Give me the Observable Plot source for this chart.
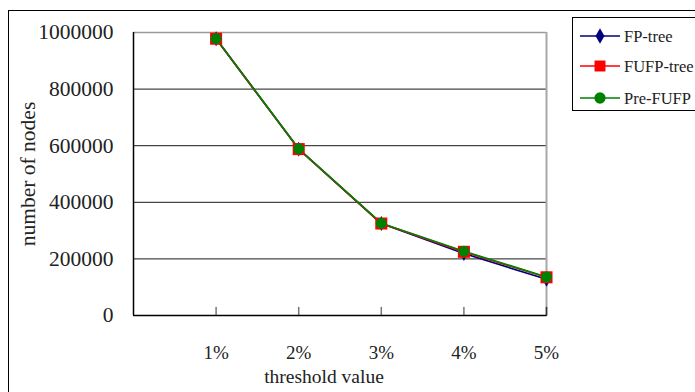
<!DOCTYPE html>
<html><head><meta charset="utf-8">
<script src="https://cdn.jsdelivr.net/npm/d3@7"></script>
<script src="https://cdn.jsdelivr.net/npm/@observablehq/plot@0.6"></script>
<style>
html,body{margin:0;padding:0;background:#fff}
body{overflow:hidden;width:695px;height:392px;position:relative;font-family:"Liberation Serif",serif}
#chart{position:absolute;left:0;top:0}
#chart svg, #chart svg text, #legend text{font-family:"Liberation Serif",serif !important}
#frame{position:absolute;left:8px;top:10px;width:900px;height:600px;border:1px solid #000;pointer-events:none}
#legend{position:absolute;left:572px;top:17px;width:200px;height:92px;border:1px solid #000;background:#fff}
</style></head><body>
<div id="chart"></div><div id="frame"></div><div id="legend"></div>
<script>
const thresholds = [1, 2, 3, 4, 5];
const tickLabels = ["1%", "2%", "3%", "4%", "5%"];
const seriesNames = ["FP-tree", "FUFP-tree", "Pre-FUFP"];
const fpTree = [978000, 588000, 325000, 219000, 128000];
const fufpTree = [978000, 588000, 325000, 225000, 135000];
const preFufp = [978000, 589000, 326000, 227000, 136000];
const yTicks = [0, 200000, 400000, 600000, 800000, 1000000];
const gridValues = [200000, 400000, 600000, 800000];
const colors = ["#000080", "#ff0000", "#008000"];
const symbols = ["diamond", "square", "circle"];
const sizes = [4.5, 6.8, 5.5];

const allSeries = [fpTree, fufpTree, preFufp];
const rows = [];
allSeries.forEach((vals, s) => vals.forEach((v, i) => rows.push({series: seriesNames[s], x: thresholds[i], y: v})));

const font = "Liberation Serif";
const lineMarks = [];
seriesNames.forEach((name, s) => {
  const d = rows.filter(r => r.series === name);
  lineMarks.push(Plot.line(d, {x: "x", y: "y", stroke: colors[s], strokeWidth: 1.7}));
});
seriesNames.forEach((name, s) => {
  const d = rows.filter(r => r.series === name);
  lineMarks.push(Plot.dot(d, {x: "x", y: "y", symbol: () => symbols[s], r: sizes[s], fill: colors[s], stroke: "none"}));
});

const tickUp = {draw(ctx, l) { ctx.moveTo(0, 0); ctx.lineTo(0, -l); }};

const chart = Plot.plot({
  width: 695,
  height: 392,
  marginLeft: 133,
  marginRight: 149,
  marginTop: 32,
  marginBottom: 77,
  style: {fontFamily: font, background: "transparent", overflow: "visible"},
  x: {domain: [0, 5]},
  y: {domain: [0, 1000000]},
  symbol: {type: "identity"},
  marks: [
    Plot.ruleY(gridValues, {stroke: "#1a1a1a", strokeWidth: 1}),
    Plot.ruleY([1000000], {stroke: "#9a9a9a", strokeWidth: 1.5}),
    Plot.ruleX([5], {stroke: "#a8a8a8", strokeWidth: 2}),
    Plot.vector(thresholds, {x: d => d, y: 0, length: 8, anchor: "start", shape: tickUp, stroke: d => d === 5 ? "#333" : "#777", strokeWidth: 1.5}),
    Plot.axisX(thresholds, {tickSize: 0, tickPadding: 30, tickFormat: (d, i) => tickLabels[i], fontSize: 19, fontFamily: font, fill: "#222", label: null}),
    Plot.axisY(yTicks, {tickSize: 0, tickPadding: 20, tickFormat: d => String(d), fontSize: 21.5, fontFamily: font, fill: "#222", label: null}),
    Plot.ruleX([0], {stroke: "#000", strokeWidth: 1.5}),
    Plot.ruleY([0], {stroke: "#000", strokeWidth: 1.5}),
    Plot.text(["threshold value"], {frameAnchor: "bottom", dy: 67, dx: -16, fontSize: 19.5, fontFamily: font, fill: "#222", text: d => d}),
    Plot.text(["number of nodes"], {frameAnchor: "left", textAnchor: "middle", dx: -105, rotate: -90, fontSize: 21.5, fontFamily: font, fill: "#222", text: d => d}),
    ...lineMarks
  ]
});
document.getElementById("chart").appendChild(chart);

// legend
const lg = d3.select("#legend").append("svg").attr("width", 200).attr("height", 92);
const rowY = [18, 48, 80];
seriesNames.forEach((name, s) => {
  const g = lg.append("g").attr("transform", `translate(0,${rowY[s]})`);
  g.append("line").attr("x1", 7).attr("x2", 47).attr("y1", 0).attr("y2", 0).attr("stroke", colors[s]).attr("stroke-width", 1.6);
  const sym = {diamond: d3.symbolDiamond, square: d3.symbolSquare, circle: d3.symbolCircle}[symbols[s]];
  const area = s === 0 ? 70 : s === 1 ? 120 : 100;
  g.append("path").attr("d", d3.symbol(sym, area)()).attr("transform", "translate(27,0)").attr("fill", colors[s]);
  g.append("text").attr("x", 51).attr("y", 0).attr("dy", "0.35em").attr("font-size", 16.5).attr("fill", "#222").text(name);
});
</script>
</body></html>
